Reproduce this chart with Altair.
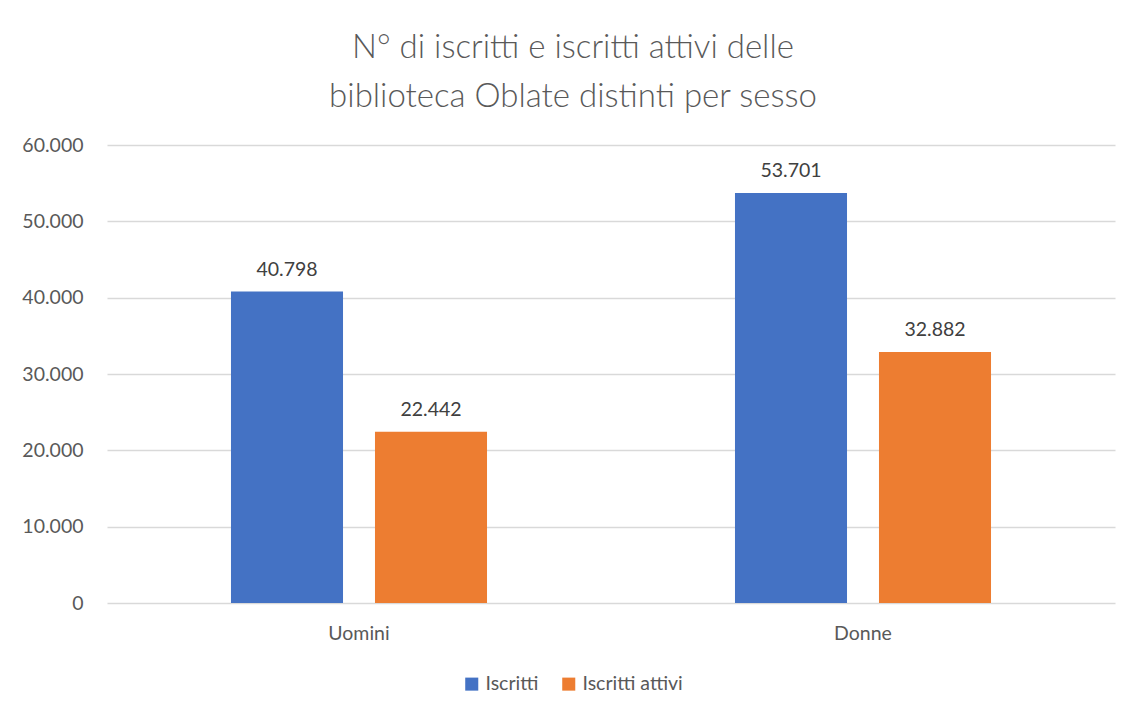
import altair as alt
import pandas as pd

categories = ["Uomini", "Uomini", "Donne", "Donne"]
series = ["Iscritti", "Iscritti attivi", "Iscritti", "Iscritti attivi"]
values = [40798, 22442, 53701, 32882]

df = pd.DataFrame({"sesso": categories, "serie": series, "valore": values})

FONT = "Lato"
GREY = "#595959"
FS = 19.5

x = alt.X("sesso:N", sort=["Uomini", "Donne"], title=None,
          scale=alt.Scale(paddingInner=0, paddingOuter=0),
          axis=alt.Axis(labelAngle=0, labelFontSize=FS, labelColor=GREY, labelFont=FONT,
                        domain=False, ticks=False, labelPadding=21))
xo = alt.XOffset("serie:N", sort=["Iscritti", "Iscritti attivi"],
                 scale=alt.Scale(paddingInner=0.222, paddingOuter=0.861))
y = alt.Y("valore:Q", title=None,
          scale=alt.Scale(domain=[0, 60000]),
          axis=alt.Axis(values=[0, 10000, 20000, 30000, 40000, 50000, 60000],
                        labelExpr="replace(format(datum.value, ','), ',', '.')",
                        labelFontSize=FS, labelColor=GREY, labelFont=FONT,
                        domain=False, ticks=False, labelPadding=24,
                        gridColor="#d9d9d9", gridWidth=1.3))

color = alt.Color("serie:N", sort=["Iscritti", "Iscritti attivi"],
                  scale=alt.Scale(domain=["Iscritti", "Iscritti attivi"], range=["#4472C4", "#ED7D31"]),
                  legend=alt.Legend(title=None, orient="none", direction="horizontal",
                                    legendX=355, legendY=529, symbolType="square", symbolSize=170,
                                    symbolStrokeWidth=0, labelFontSize=FS, labelColor=GREY,
                                    labelFont=FONT, columnPadding=20, labelOffset=4))

bars = alt.Chart(df).mark_bar().encode(x=x, xOffset=xo, y=y, color=color)

labels = alt.Chart(df).transform_calculate(
    lab="replace(format(datum.valore, ','), ',', '.')"
).mark_text(baseline="bottom", dy=-12, fontSize=FS, color="#404040", font=FONT).encode(
    x=x, xOffset=xo, y=y, text="lab:N")

chart = alt.layer(bars, labels).properties(
    width=1008, height=458,
    autosize=alt.AutoSizeParams(type="none"),
    padding={"left": 99, "top": 137, "right": 6, "bottom": 100},
    title=alt.TitleParams(["N° di iscritti e iscritti attivi delle", "biblioteca Oblate distinti per sesso"],
                          fontSize=33, font=FONT, fontWeight=300, color=GREY,
                          lineHeight=49, anchor="middle", dx=-38, offset=21),
).configure_view(stroke=None)

chart.save("out.html", embed_options={"renderer": "svg", "actions": False})
